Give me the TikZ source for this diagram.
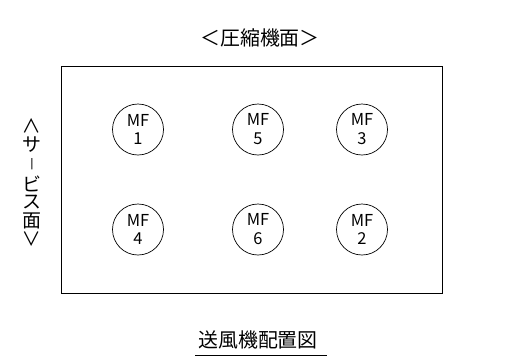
\documentclass[tikz,border=0pt]{standalone}
\usepackage{fontspec}
\setmainfont{Noto Sans CJK JP}
\begin{document}
\begin{tikzpicture}[x=1bp,y=-1bp,
  fan/.style={circle,draw,line width=0.7pt,minimum size=51bp,inner sep=0pt,align=center,
    font=\fontsize{16.5}{19}\selectfont},
  jp/.style={inner sep=0pt,font=\fontsize{20}{20}\selectfont},
  vchar/.style={inner sep=0pt,font=\fontsize{19}{19}\selectfont}]
\useasboundingbox (0,0) rectangle (510,361);
\node[draw,line width=0.8pt,minimum width=381bp,minimum height=227bp,inner sep=0pt] (frame) at (251.5,179.5) {};
\node[fan] (mf1) at (138,129.5) {MF\\1};
\node[fan] (mf5) at (258,129.5) {MF\\5};
\node[fan] (mf3) at (362,129.5) {MF\\3};
\node[fan] (mf4) at (138,229.5) {MF\\4};
\node[fan] (mf6) at (258,229.5) {MF\\6};
\node[fan] (mf2) at (362,229.5) {MF\\2};
\node[jp] (top) at (260,37.5) {＜圧縮機面＞};
\node[jp] (bottom) at (258,340) {送風機配置図};
\coordinate (ul1) at (195,355);
\coordinate (ul2) at (327,355);
\draw[line width=0.8pt] (ul1) -- (ul2);
\node[vchar] (v1) at (32,126) {\rotatebox[origin=c]{-90}{＜}};
\node[vchar] (v2) at (32,144.5) {サ};
\node[vchar] (v3) at (32,164) {\scalebox{1.2}[0.6]{｜}};
\node[vchar] (v4) at (32,183.5) {ビ};
\node[vchar] (v5) at (32,202.5) {ス};
\node[vchar] (v6) at (32,221) {面};
\node[vchar] (v7) at (32,239) {\rotatebox[origin=c]{-90}{＞}};
\end{tikzpicture}
\end{document}
